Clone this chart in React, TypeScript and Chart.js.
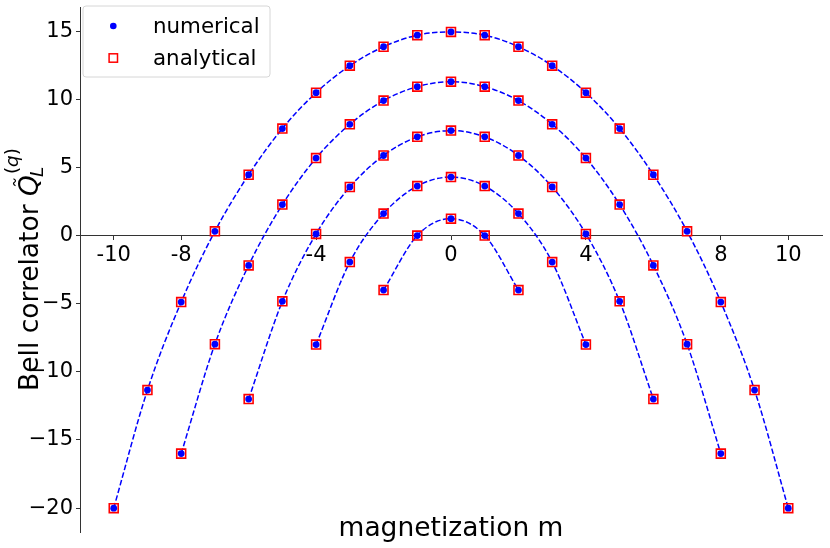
import React, { useEffect, useRef } from 'react';
import { Chart, registerables } from 'chart.js';

Chart.register(...registerables);

// magnetization values for each curve
const m1 = [-2, -1, 0, 1, 2];
const m2 = [-4, -3, -2, -1, 0, 1, 2, 3, 4];
const m3 = [-6, -5, -4, -3, -2, -1, 0, 1, 2, 3, 4, 5, 6];
const m4 = [-8, -7, -6, -5, -4, -3, -2, -1, 0, 1, 2, 3, 4, 5, 6, 7, 8];
const m5 = [-10, -9, -8, -7, -6, -5, -4, -3, -2, -1, 0, 1, 2, 3, 4, 5, 6, 7, 8, 9, 10];

// Bell correlator values
const q1 = [-4.0, 0.0, 1.24, 0.0, -4.0];
const q2 = [-8.0, -1.95, 1.61, 3.63, 4.29, 3.63, 1.61, -1.95, -8.0];
const q3 = [-12.0, -4.83, 0.12, 3.56, 5.87, 7.24, 7.7, 7.24, 5.87, 3.56, 0.12, -4.83, -12.0];
const q4 = [-16.0, -7.97, -2.19, 2.27, 5.68, 8.16, 9.9, 10.92, 11.29, 10.92, 9.9, 8.16, 5.68, 2.27, -2.19, -7.97, -16.0];
const q5 = [-20.0, -11.34, -4.88, 0.31, 4.46, 7.85, 10.48, 12.46, 13.85, 14.7, 14.94, 14.7, 13.85, 12.46, 10.48, 7.85, 4.46, 0.31, -4.88, -11.34, -20.0];

const curvesM = [m1, m2, m3, m4, m5];
const curvesQ = [q1, q2, q3, q4, q5];

const xTicks = [-10, -8, -4, 0, 4, 8, 10];
const xTickLabels = ['-10', '-8', '-4', '0', '4', '8', '10'];
const yTicks = [-20, -15, -10, -5, 0, 5, 10, 15];
const yTickLabels = ['\u221220', '\u221215', '\u221210', '\u22125', '0', '5', '10', '15'];

const legendLabels = ['numerical', 'analytical'];
const xTitle = 'magnetization m';
const yTitleMain = 'Bell correlator ';

const FONT = "'DejaVu Sans', sans-serif";

const toPoints = (ms: number[], qs: number[]) => ms.map((m, i) => ({ x: m, y: qs[i] }));

const overlayPlugin = {
  id: 'overlay',
  afterDraw(chart: any) {
    const ctx = chart.ctx as CanvasRenderingContext2D;
    const area = chart.chartArea;
    ctx.save();
    // x title
    ctx.fillStyle = '#000';
    ctx.font = `26.5px ${FONT}`;
    ctx.textAlign = 'center';
    ctx.textBaseline = 'alphabetic';
    ctx.fillText(xTitle, (area.left + area.right) / 2, 536);

    // y title (rotated, with math part)
    const big = 26.5;
    const small = 18.5;
    ctx.save();
    ctx.translate(38, (area.top + area.bottom) / 2);
    ctx.rotate(-Math.PI / 2);
    ctx.textAlign = 'left';
    ctx.font = `${big}px ${FONT}`;
    const wMain = ctx.measureText(yTitleMain).width;
    ctx.font = `italic ${big}px ${FONT}`;
    const wQ = ctx.measureText('Q').width;
    ctx.font = `${small}px ${FONT}`;
    const wParen = ctx.measureText('(').width;
    ctx.font = `italic ${small}px ${FONT}`;
    const wq = ctx.measureText('q').width;
    const wSup = wParen * 2 + wq;
    const total = wMain + wQ + wSup;
    let x = -total / 2;
    ctx.font = `${big}px ${FONT}`;
    ctx.fillText(yTitleMain, x, 0);
    x += wMain;
    ctx.font = `italic ${big}px ${FONT}`;
    ctx.fillText('Q', x, 0);
    // tilde
    const tx = x + wQ * 0.66;
    const ty = -23.5;
    ctx.beginPath();
    ctx.moveTo(tx - 3.5, ty + 1);
    ctx.bezierCurveTo(tx - 2, ty - 2, tx - 0.5, ty - 1, tx, ty);
    ctx.bezierCurveTo(tx + 0.5, ty + 1, tx + 2, ty + 2, tx + 3.5, ty - 1);
    ctx.strokeStyle = '#000';
    ctx.lineWidth = 1.2;
    ctx.stroke();
    x += wQ;
    // subscript L
    ctx.font = `italic ${small}px ${FONT}`;
    ctx.fillText('L', x - 2, 5);
    // superscript (q)
    let sx = x + 1;
    const sy = -20;
    ctx.font = `${small}px ${FONT}`;
    ctx.fillText('(', sx, sy);
    sx += wParen;
    ctx.font = `italic ${small}px ${FONT}`;
    ctx.fillText('q', sx, sy);
    sx += wq;
    ctx.font = `${small}px ${FONT}`;
    ctx.fillText(')', sx, sy);
    ctx.restore();

    // legend
    const lx = 83, ly = 6, lw = 187, lh = 71, r = 3;
    ctx.beginPath();
    ctx.moveTo(lx + r, ly);
    ctx.lineTo(lx + lw - r, ly);
    ctx.quadraticCurveTo(lx + lw, ly, lx + lw, ly + r);
    ctx.lineTo(lx + lw, ly + lh - r);
    ctx.quadraticCurveTo(lx + lw, ly + lh, lx + lw - r, ly + lh);
    ctx.lineTo(lx + r, ly + lh);
    ctx.quadraticCurveTo(lx, ly + lh, lx, ly + lh - r);
    ctx.lineTo(lx, ly + r);
    ctx.quadraticCurveTo(lx, ly, lx + r, ly);
    ctx.closePath();
    ctx.fillStyle = 'rgba(255,255,255,0.8)';
    ctx.fill();
    ctx.strokeStyle = '#d6d6d6';
    ctx.lineWidth = 1;
    ctx.stroke();

    ctx.beginPath();
    ctx.arc(113.3, 26, 3.3, 0, Math.PI * 2);
    ctx.fillStyle = '#0000ff';
    ctx.fill();

    ctx.strokeStyle = '#ff0000';
    ctx.lineWidth = 1.5;
    ctx.strokeRect(113.3 - 4.2, 58 - 4.2, 8.4, 8.4);

    ctx.fillStyle = '#000';
    ctx.font = `21.4px ${FONT}`;
    ctx.textAlign = 'left';
    ctx.textBaseline = 'alphabetic';
    ctx.fillText(legendLabels[0], 153, 33);
    ctx.fillText(legendLabels[1], 153, 64.5);
    ctx.restore();
  },
};

export default function App() {
  const canvasRef = useRef<HTMLCanvasElement | null>(null);

  useEffect(() => {
    if (!canvasRef.current) return;
    const lineSets = curvesM.map((ms, i) => ({
      label: 'curve' + i,
      data: toPoints(ms, curvesQ[i]),
      showLine: true,
      borderColor: '#0000ff',
      borderWidth: 1.5,
      borderDash: [5.5, 2.4],
      pointRadius: 0,
      fill: false,
      cubicInterpolationMode: 'monotone' as const,
      tension: 0.4,
      order: 3,
    }));
    const analytical = curvesM.map((ms, i) => ({
      label: legendLabels[1],
      data: toPoints(ms, curvesQ[i]),
      showLine: false,
      pointStyle: 'rect' as const,
      pointRadius: 6.3,
      pointBorderColor: '#ff0000',
      pointBackgroundColor: 'rgba(0,0,0,0)',
      pointBorderWidth: 1.6,
      order: 2,
    }));
    const numerical = curvesM.map((ms, i) => ({
      label: legendLabels[0],
      data: toPoints(ms, curvesQ[i]),
      showLine: false,
      pointStyle: 'circle' as const,
      pointRadius: 3.4,
      pointBorderWidth: 0,
      pointBackgroundColor: '#0000ff',
      pointBorderColor: '#0000ff',
      order: 1,
    }));

    const chart = new Chart(canvasRef.current, {
      type: 'scatter',
      data: { datasets: [...numerical, ...analytical, ...lineSets] as any },
      options: {
        animation: false,
        responsive: false,
        devicePixelRatio: 1,
        layout: { padding: { left: 0, top: 6, right: 8, bottom: 16 } },
        plugins: { legend: { display: false }, tooltip: { enabled: false } },
        events: [],
        scales: {
          x: {
            type: 'linear',
            min: -11,
            max: 11,
            position: { y: 0 } as any,
            grid: { display: true, drawOnChartArea: false, drawTicks: true, tickLength: 4, color: '#333', lineWidth: 1 },
            border: { display: true, color: '#333', width: 1 },
            ticks: {
              color: '#000',
              font: { family: FONT, size: 21 },
              padding: 3,
              autoSkip: false,
              maxRotation: 0,
              callback: (v: any) => {
                const idx = xTicks.indexOf(Number(v));
                return idx >= 0 ? xTickLabels[idx] : '';
              },
            },
            afterBuildTicks: (scale: any) => {
              scale.ticks = xTicks.map((v) => ({ value: v }));
            },
          },
          y: {
            type: 'linear',
            min: -21.75,
            max: 16.7,
            position: 'left',
            grid: { display: true, drawOnChartArea: false, drawTicks: true, tickLength: 4, color: '#333', lineWidth: 1 },
            border: { display: true, color: '#333', width: 1 },
            ticks: {
              color: '#000',
              font: { family: FONT, size: 21 },
              padding: 3,
              autoSkip: false,
              callback: (v: any) => {
                const idx = yTicks.indexOf(Number(v));
                return idx >= 0 ? yTickLabels[idx] : '';
              },
            },
            afterBuildTicks: (scale: any) => {
              scale.ticks = yTicks.map((v) => ({ value: v }));
            },
            afterFit: (scale: any) => {
              scale.width = 80;
              scale.paddingTop = 0;
              scale.paddingBottom = 0;
            },
          },
        },
      },
      plugins: [overlayPlugin],
    });
    return () => chart.destroy();
  }, []);

  return (
    <div style={{ position: 'absolute', left: 0, top: 0, width: 830, height: 548, background: '#fff' }}>
      <canvas ref={canvasRef} width={830} height={548} style={{ width: 830, height: 548 }} />
    </div>
  );
}
